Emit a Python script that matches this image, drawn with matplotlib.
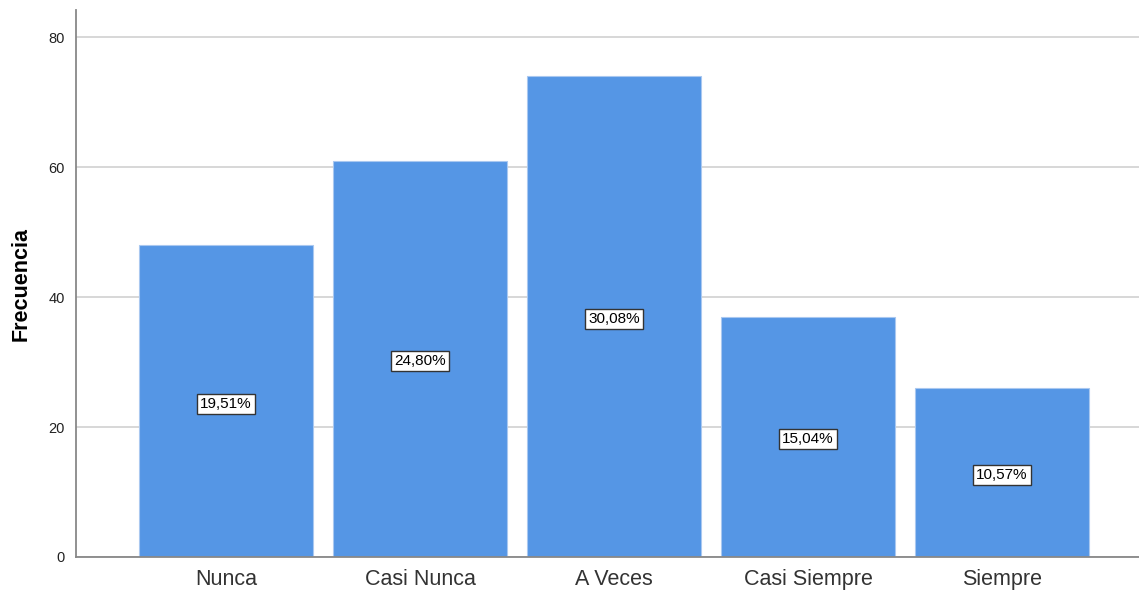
import matplotlib
matplotlib.use("Agg")
import matplotlib.pyplot as plt
import numpy as np

categories = ["Nunca", "Casi Nunca", "A Veces", "Casi Siempre", "Siempre"]
counts = [48, 61, 74, 37, 26]
pct_labels = ["19,51%", "24,80%", "30,08%", "15,04%", "10,57%"]
yticks = [0, 20, 40, 60, 80]

plt.rcParams["font.family"] = ["Liberation Sans", "DejaVu Sans"]

fig = plt.figure(figsize=(11.39, 5.94), dpi=100)
ax = fig.add_axes([0.0667, 0.0623, 0.9333, 0.9207])

x = np.arange(len(categories))
ax.set_axisbelow(True)
ax.yaxis.grid(True, color="#d4d4d4", linewidth=1.3)
ax.bar(x, counts, width=0.897, color="#5596e5", edgecolor="#a9c8f0", linewidth=0.8)

for xi, c, lab in zip(x, counts, pct_labels):
    ax.text(xi, c / 2 - 0.4, lab, ha="center", va="center", fontsize=11,
            bbox=dict(boxstyle="square,pad=0.2", fc="white", ec="#333333", lw=1))

ax.set_xlim(-0.773, 4.706)
ax.set_ylim(0, 84.15)
ax.set_xticks(x)
ax.set_xticklabels(categories, fontsize=15.5, color="#333333")
ax.set_yticks(yticks)
ax.set_yticklabels([str(v) for v in yticks], fontsize=10.5, color="#222222")
ax.tick_params(length=0, pad=8)
ax.tick_params(axis="x", pad=9)
ax.set_ylabel("Frecuencia", fontsize=15.5, fontweight="bold")
ax.yaxis.set_label_coords(-0.042, 0.5)

for s in ["top", "right"]:
    ax.spines[s].set_visible(False)
for s in ["left", "bottom"]:
    ax.spines[s].set_color("#888888")
    ax.spines[s].set_linewidth(1.3)

fig.savefig("out.png", dpi=100)
